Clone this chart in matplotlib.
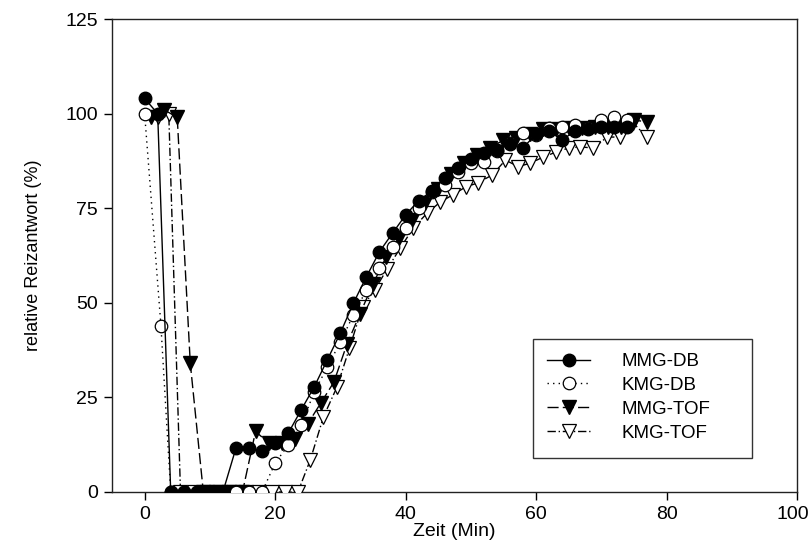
import matplotlib
matplotlib.use("Agg")
import matplotlib.pyplot as plt
from matplotlib.patches import Rectangle
from matplotlib.transforms import ScaledTranslation

plt.rcParams['font.family'] = ['Liberation Sans', 'DejaVu Sans']

# ---- data ----
mmg_db_x = [0, 2, 4, 6, 8, 10, 12, 14, 16, 18, 20, 22, 24, 26, 28, 30, 32, 34, 36, 38,
            40, 42, 44, 46, 48, 50, 52, 54, 56, 58, 60, 62, 64, 66, 68, 70, 72, 74]
mmg_db_y = [104, 100, 0, 0, 0, 0, 0, 11.6, 11.6, 10.8, 13, 15.5, 21.7, 27.8, 34.9, 42, 49.9, 56.9, 63.5, 68.4,
            73.2, 77, 79.5, 83, 85.5, 88, 89.5, 90.5, 92, 91, 94.5, 95.5, 93, 95.5, 96, 96.5, 96.5, 96.5]

kmg_db_x = [0, 2.5, 4, 6, 8, 10, 12, 14, 16, 18, 20, 22, 24, 26, 28, 30, 32, 34, 36, 38,
            40, 42, 44, 46, 48, 50, 52, 54, 56, 58, 60, 62, 64, 66, 68, 70, 72, 74]
kmg_db_y = [100, 44, 0, 0, 0, 0, 0, 0, 0, 0, 7.6, 12.4, 17.7, 26.4, 33, 39.6, 46.8, 53.4, 59.2, 64.7,
            69.8, 75, 79.3, 81, 84.6, 87, 87.2, 90, 92.2, 94.9, 94.3, 96.2, 96.5, 97, 96.2, 98.3, 99.1, 98.3]

mmg_tof_x = [1, 3, 5, 7, 9, 11, 13, 15, 17, 19, 21, 23, 25, 27, 29, 31, 33, 35, 37, 39,
             41, 43, 45, 47, 49, 51, 53, 55, 57, 59, 61, 63, 65, 67, 69, 71, 73, 75, 77]
mmg_tof_y = [99, 101, 99, 34, 0, 0, 0, 0, 16, 13, 13, 14, 18, 23.5, 29, 39, 47, 55, 62, 67,
             72, 76.5, 80, 84, 87, 89, 91, 93, 93.5, 94.5, 96, 96, 96.2, 96.2, 96.5, 96.5, 96.5, 98.3, 97.8]

kmg_tof_x = [2, 3.7, 5.5, 7.5, 9.5, 11.5, 13.5, 15.5, 17.5, 19.5, 21.5, 23.5,
             25.4, 27.4, 29.5, 31.4, 33.4, 35.3, 37.2, 39.2, 41.2, 43.3, 45.3, 47.2, 49.2, 51.1,
             53.3, 55.3, 57.3, 59.1, 61.1, 63, 65, 66.8, 68.8, 70.9, 72.9, 74.9, 77]
kmg_tof_y = [99, 100, 0, 0, 0, 0, 0, 0, 0, 0, 0, 0,
             8.5, 19.8, 27.8, 38, 49, 53.5, 59, 64.5, 69.8, 73.7, 76.6, 78.5, 80.6, 81.7,
             83.8, 87.7, 86, 86.9, 88.5, 89.8, 90.9, 91.2, 90.9, 93.8, 93.8, 97.5, 93.8]

labels = ["MMG-DB", "KMG-DB", "MMG-TOF", "KMG-TOF"]
x_ticks = [0, 20, 40, 60, 80, 100]
y_ticks = [0, 25, 50, 75, 100, 125]

fig = plt.figure(figsize=(8.11, 5.54), dpi=100)
ax = fig.add_axes([112/811, 62/554, (797-112)/811, (492-19)/554])

lw = 1.0
ms = 9
ax.plot(kmg_tof_x, kmg_tof_y, color='black', lw=lw, dashes=(6, 2, 1, 2),
        marker='v', markersize=ms + 0.5, markerfacecolor='white', markeredgecolor='black',
        markeredgewidth=0.9, label=labels[3], zorder=3)
ax.plot(mmg_tof_x, mmg_tof_y, color='black', lw=lw, dashes=(8, 3),
        marker='v', markersize=ms + 0.5, markerfacecolor='black', markeredgecolor='black',
        label=labels[2], zorder=4)
ax.plot(kmg_db_x, kmg_db_y, color='black', lw=lw, dashes=(1, 3),
        marker='o', markersize=ms, markerfacecolor='white', markeredgecolor='black',
        markeredgewidth=0.9, label=labels[1], zorder=5)
ax.plot(mmg_db_x, mmg_db_y, color='black', lw=lw, linestyle='-',
        marker='o', markersize=ms, markerfacecolor='black', markeredgecolor='black',
        label=labels[0], zorder=6)

ax.set_xlim(-5, 100)
ax.set_ylim(0, 125)
ax.set_xticks(x_ticks)
ax.set_yticks(y_ticks)
ax.tick_params(direction='out', length=5.5, width=1, labelsize=14, colors='black',
               top=False, right=False, pad=4.5)
for sp in ax.spines.values():
    sp.set_linewidth(1.0)
    sp.set_color('#222222')

ax.set_xlabel("Zeit (Min)", fontsize=14, labelpad=0)
ax.set_ylabel("relative Reizantwort (%)", fontsize=13, labelpad=17)

# legend frame (drawn separately so its size matches the reference)
ax.add_patch(Rectangle((0.6146, 0.0719), 0.9343 - 0.6146, 0.3235 - 0.0719,
                       transform=ax.transAxes, facecolor='white', edgecolor='#333333',
                       lw=1.0, zorder=9))

handles, labs = ax.get_legend_handles_labels()
order = [3, 2, 1, 0]
leg = ax.legend([handles[i] for i in order], [labs[i] for i in order],
                loc='upper left', bbox_to_anchor=(0.635, 0.294),
                frameon=False, fontsize=13.5, handlelength=2.3, handletextpad=1.7,
                labelspacing=0.36, borderpad=0, borderaxespad=0)
leg.set_zorder(10)

# keep the last x tick label ("100") inside the figure edge
fig.canvas.draw()
last = ax.xaxis.get_major_ticks()[-1].label1
last.set_transform(last.get_transform() + ScaledTranslation(-4/100, 0, fig.dpi_scale_trans))

fig.savefig("out.png", dpi=100)
